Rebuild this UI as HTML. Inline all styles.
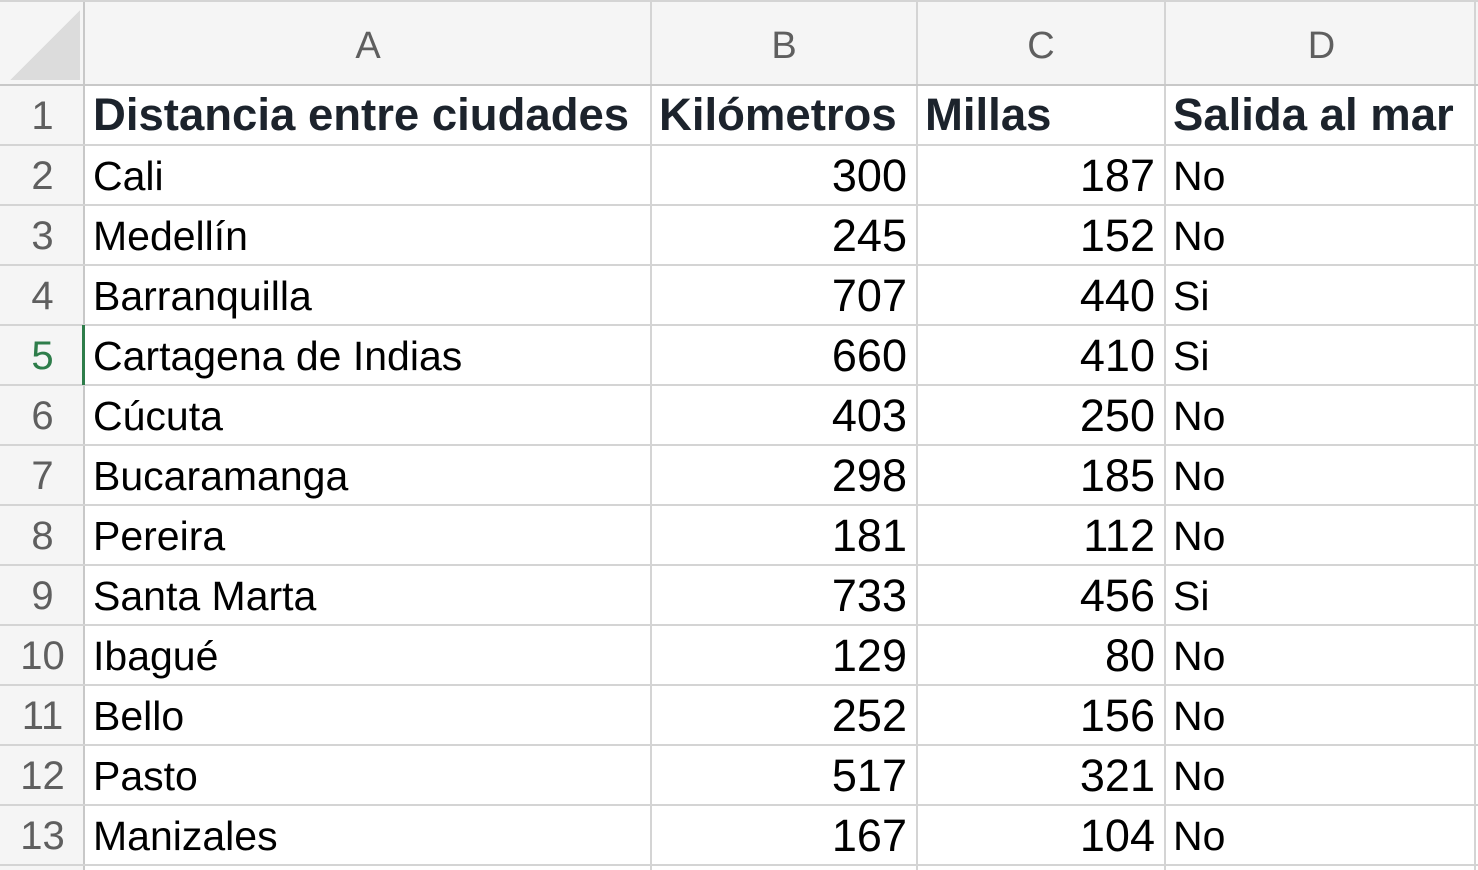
<!DOCTYPE html>
<html><head><meta charset="utf-8"><style>
body{margin:0;width:1478px;height:870px;overflow:hidden;background:#fff;font-family:"Liberation Sans",sans-serif;position:relative}
.c{position:absolute;box-sizing:border-box;white-space:nowrap;overflow:visible}
.hd{background:#f5f5f5;color:#5f5f5f;font-size:38px;text-align:center}
.vl{position:absolute;background:#d4d4d4;width:2px}
.hl{position:absolute;background:#d4d4d4;height:2px}
</style></head><body>
<div id="sheet"></div>
<script>
const colLetters=["A","B","C","D"];
const headers=["Distancia entre ciudades","Kilómetros","Millas","Salida al mar"];
const cities=["Cali","Medellín","Barranquilla","Cartagena de Indias","Cúcuta","Bucaramanga","Pereira","Santa Marta","Ibagué","Bello","Pasto","Manizales"];
const km=[300,245,707,660,403,298,181,733,129,252,517,167];
const miles=[187,152,440,410,250,185,112,456,80,156,321,104];
const sea=["No","No","Si","Si","No","No","No","Si","No","No","No","No"];
const colX=[85,651,917,1165,1478];
const rowH=60, top0=85;
const s=document.getElementById('sheet');
function add(cls,x,y,w,h,txt,style){const d=document.createElement('div');d.className=cls;d.style.cssText=`left:${x}px;top:${y}px;width:${w}px;height:${h}px;${style||''}`;if(txt!==undefined)d.textContent=txt;s.appendChild(d);return d;}
let e=add('c hd',0,0,1478,85);


e=add('c hd',0,85,85,785);


e=add('c',10,10,70,70,undefined,'background:linear-gradient(to bottom right,transparent 50%,#dcdcdc 50%)');


colLetters.forEach((L,i)=>{
  const d=add('c hd',colX[i],0,colX[i+1]-colX[i],85,L,'background:transparent;line-height:92px;font-size:38px');
  
  
});
for(let r=0;r<13;r++){
  const y=top0+r*rowH;
  const d=add('c hd',0,y,85,rowH,String(r+1),'background:transparent;line-height:62px;font-size:40px;'+(r===4?'color:#2e7d4a;':''));
  
  
}
headers.forEach((h,i)=>{
  const d=add('c',colX[i]+8,top0,colX[i+1]-colX[i]-8,rowH,h,'font-weight:bold;font-size:45.5px;line-height:60px;color:#1c232c');
  
  
});
cities.forEach((c,r)=>{
  const y=top0+(r+1)*rowH;
  const st='font-size:41px;line-height:62px;color:#000;';
  let d=add('c',colX[0]+8,y,colX[1]-colX[0]-8,rowH,c,st);
  
  
  d=add('c',colX[1],y,colX[2]-colX[1]-10,rowH,String(km[r]),st+'text-align:right;font-size:45px');
  
  
  d=add('c',colX[2],y,colX[3]-colX[2]-10,rowH,String(miles[r]),st+'text-align:right;font-size:45px');
  
  
  d=add('c',colX[3]+8,y,colX[4]-colX[3]-8,rowH,sea[r],st);
  
  
});
for(let i=1;i<colX.length-1;i++){const v=document.createElement('div');v.className='vl';v.style.cssText=`left:${colX[i]-1}px;top:0;height:870px`;s.appendChild(v);}
{const v=document.createElement('div');v.className='vl';v.style.cssText=`left:83px;top:0;height:870px;background:#c8c8c8`;s.appendChild(v);}
{const v=document.createElement('div');v.className='vl';v.style.cssText=`left:1474px;top:0;height:870px`;s.appendChild(v);}
for(let r=0;r<=14;r++){const y=r===0?0:top0+(r-1)*rowH-1;const h=document.createElement('div');h.className='hl';h.style.cssText=`left:0;top:${y}px;width:1478px;`+(r===1?'background:#c8c8c8':'');s.appendChild(h);}
{const v=document.createElement('div');v.className='vl';v.style.cssText=`left:82px;top:${top0+4*rowH}px;height:${rowH}px;background:#2e7d4a;width:3px`;s.appendChild(v);}
</script>
</body></html>
